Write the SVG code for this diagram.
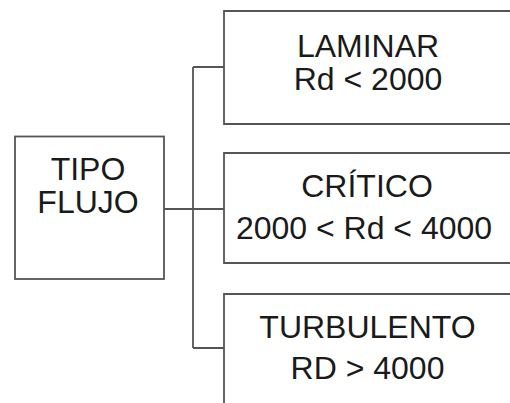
<svg xmlns="http://www.w3.org/2000/svg" width="510" height="403" viewBox="0 0 510 403">
<style>
.box{fill:#fff;stroke:#555;stroke-width:1.8}
.edge{fill:none;stroke:#555;stroke-width:1.8}
.con{fill:none;stroke:#555;stroke-width:1.8}
text{font-family:"Liberation Sans",Arial,sans-serif;font-size:32px;fill:#1a1a1a;text-anchor:middle}
</style>
<rect width="510" height="403" fill="#fff"/>
<g id="connectors">
<path class="con" d="M193 67V348M193 67H224M164 209H224M193 348H224"/>
</g>
<g id="tipo-flujo">
<rect class="box" x="15" y="136.5" width="149" height="142.5"/>
<text x="88" y="180">TIPO</text>
<text x="88" y="213">FLUJO</text>
</g>
<g id="laminar">
<path class="edge" d="M512 11H224V124H512"/>
<text x="368" y="57">LAMINAR</text>
<text x="368" y="90">Rd &lt; 2000</text>
</g>
<g id="critico">
<path class="edge" d="M512 153H224V263H512"/>
<text x="367" y="197">CRÍTICO</text>
<text x="364" y="239">2000 &lt; Rd &lt; 4000</text>
</g>
<g id="turbulento">
<path class="edge" d="M512 294H224V405"/>
<text x="367.5" y="338">TURBULENTO</text>
<text x="367.5" y="379">RD &gt; 4000</text>
</g>
</svg>
